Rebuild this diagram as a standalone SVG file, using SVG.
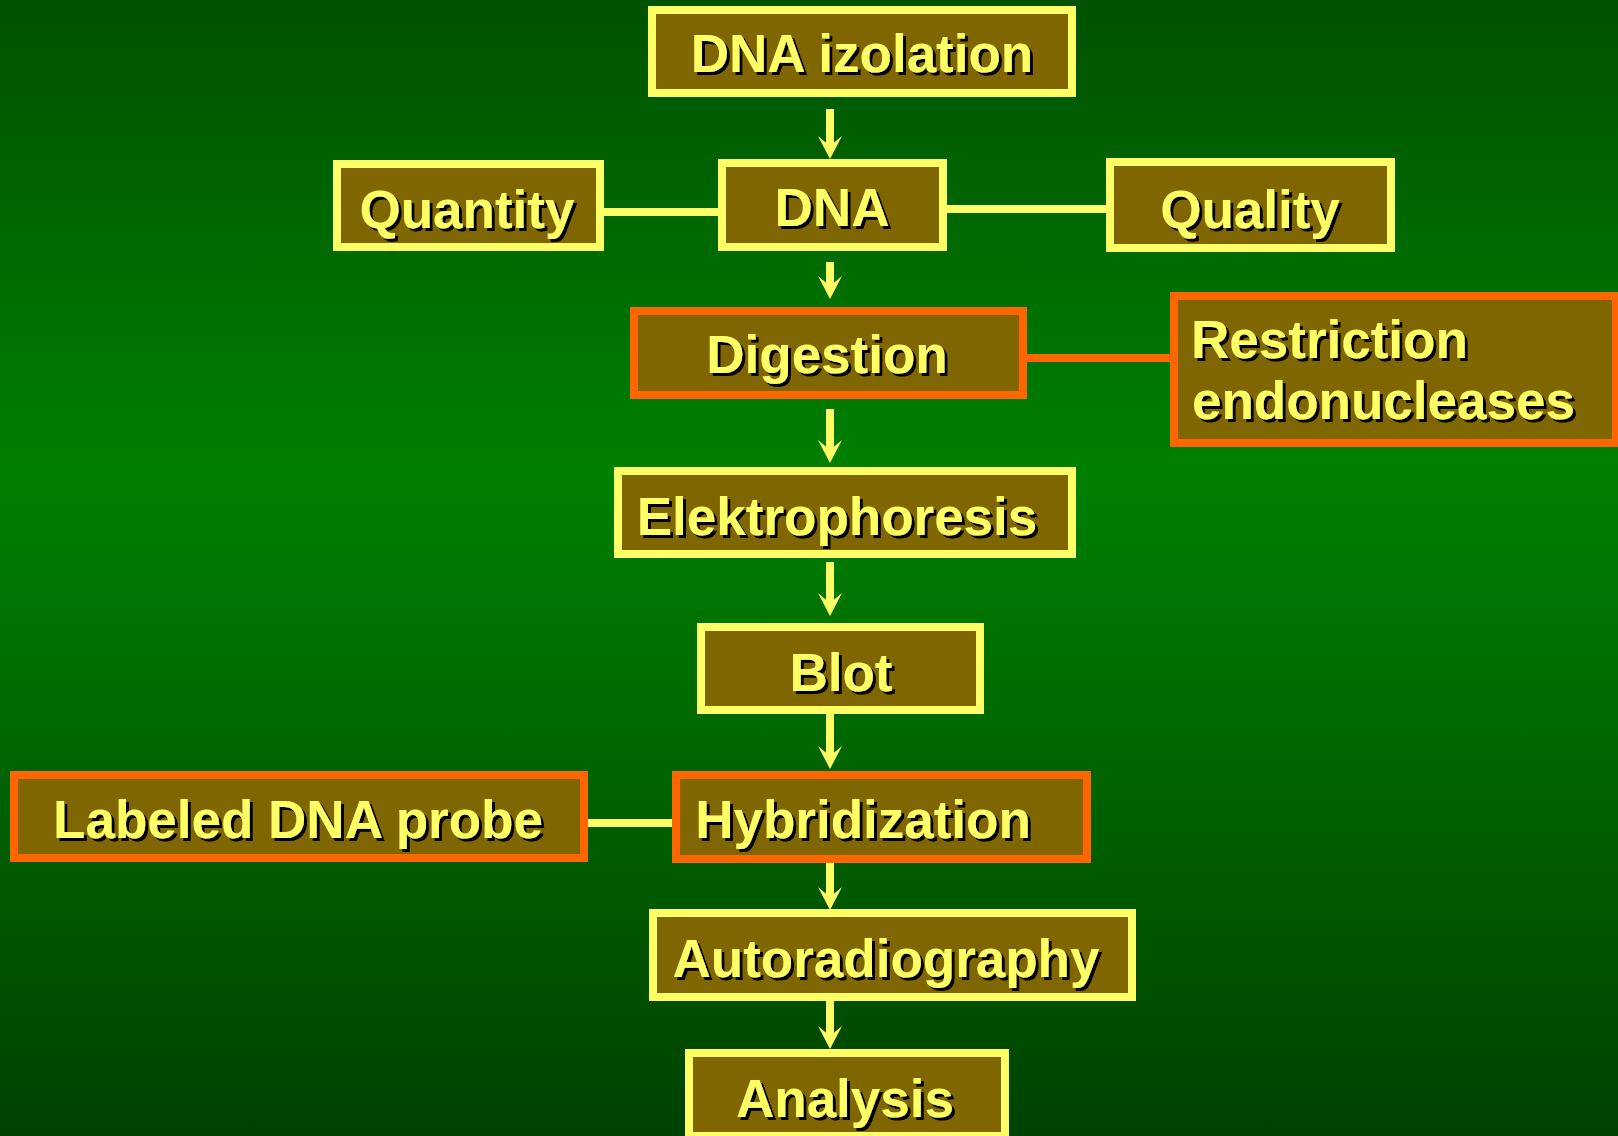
<svg xmlns="http://www.w3.org/2000/svg" width="1618" height="1136" viewBox="0 0 1618 1136">
  <defs>
    <linearGradient id="bg" x1="0" y1="0" x2="0" y2="1">
      <stop offset="0" stop-color="#005200"/>
      <stop offset="0.42" stop-color="#008000"/>
      <stop offset="1" stop-color="#004200"/>
    </linearGradient>
    <filter id="shadow" x="-5%" y="-20%" width="115%" height="150%">
      <feDropShadow dx="3" dy="3" stdDeviation="0" flood-color="#000000" flood-opacity="1"/>
    </filter>
    <marker id="head" viewBox="0 0 23 24" markerWidth="23" markerHeight="24" refX="11" refY="12" orient="auto" markerUnits="userSpaceOnUse">
      <path d="M0,0 L23,12 L0,24 L10,12 Z" fill="#FFFF66"/>
    </marker>
    <style>
      .box { fill: #806600; stroke-width: 8; }
      .yellow { stroke: #FFFF66; }
      .orange { stroke: #FF6600; }
      .lbl { font-family: "Liberation Sans", Arial, sans-serif; font-weight: bold; font-size: 53px; fill: #FFFF66; filter: url(#shadow); }
      .mid { text-anchor: middle; }
      .arrow { stroke: #FFFF66; stroke-width: 8; fill: none; marker-end: url(#head); }
      .link { stroke-width: 8; fill: none; }
    </style>
  </defs>

  <rect x="0" y="0" width="1618" height="1136" fill="url(#bg)"/>

  <!-- connectors -->
  <g id="connectors">
    <line class="arrow" x1="830" y1="109" x2="830" y2="147"/>
    <line class="arrow" x1="830" y1="262" x2="830" y2="287"/>
    <line class="arrow" x1="830" y1="409" x2="830" y2="451"/>
    <line class="arrow" x1="830" y1="562" x2="830" y2="604"/>
    <line class="arrow" x1="830" y1="714" x2="830" y2="757"/>
    <line class="arrow" x1="830" y1="862" x2="830" y2="898"/>
    <line class="arrow" x1="830" y1="1001" x2="830" y2="1037"/>
    <line class="link yellow" x1="600" y1="212" x2="722" y2="212"/>
    <line class="link yellow" x1="943" y1="209" x2="1110" y2="209"/>
    <line class="link orange" x1="1023" y1="358" x2="1174" y2="358"/>
    <line class="link yellow" x1="584" y1="823" x2="676" y2="823"/>
  </g>

  <g id="n-dna-izolation">
    <rect class="box yellow" x="652" y="10" width="420" height="83"/>
    <text class="lbl mid" x="862" y="72">DNA izolation</text>
  </g>
  <g id="n-dna">
    <rect class="box yellow" x="722" y="163" width="221" height="84"/>
    <text class="lbl mid" x="832" y="226">DNA</text>
  </g>
  <g id="n-quantity">
    <rect class="box yellow" x="337" y="164" width="263" height="83"/>
    <text class="lbl mid" x="467" y="228">Quantity</text>
  </g>
  <g id="n-quality">
    <rect class="box yellow" x="1110" y="162" width="281" height="86"/>
    <text class="lbl mid" x="1250" y="228">Quality</text>
  </g>
  <g id="n-digestion">
    <rect class="box orange" x="634" y="311" width="389" height="84"/>
    <text class="lbl mid" x="827" y="373">Digestion</text>
  </g>
  <g id="n-restriction">
    <rect class="box orange" x="1174" y="296" width="442" height="147"/>
    <text class="lbl" x="1191" y="358">Restriction</text>
    <text class="lbl" x="1192" y="419">endonucleases</text>
  </g>
  <g id="n-elektrophoresis">
    <rect class="box yellow" x="618" y="471" width="454" height="83"/>
    <text class="lbl mid" x="837" y="535">Elektrophoresis</text>
  </g>
  <g id="n-blot">
    <rect class="box yellow" x="701" y="627" width="279" height="83"/>
    <text class="lbl mid" x="841" y="691">Blot</text>
  </g>
  <g id="n-probe">
    <rect class="box orange" x="14" y="775" width="570" height="83"/>
    <text class="lbl mid" x="298" y="838">Labeled DNA probe</text>
  </g>
  <g id="n-hybridization">
    <rect class="box orange" x="676" y="775" width="411" height="84"/>
    <text class="lbl mid" x="863" y="838">Hybridization</text>
  </g>
  <g id="n-autoradiography">
    <rect class="box yellow" x="653" y="913" width="479" height="84"/>
    <text class="lbl mid" x="886" y="977">Autoradiography</text>
  </g>
  <g id="n-analysis">
    <rect class="box yellow" x="689" y="1053" width="316" height="83"/>
    <text class="lbl mid" x="845" y="1117">Analysis</text>
  </g>
</svg>
